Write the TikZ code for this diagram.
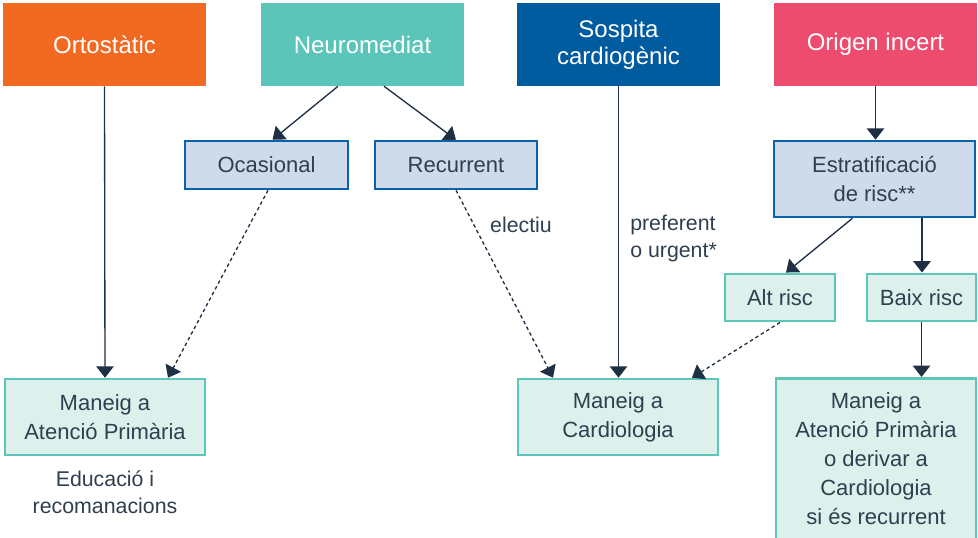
\documentclass[tikz,border=0pt]{standalone}
\usepackage{fontspec}
\setmainfont{Liberation Sans}
\usetikzlibrary{arrows.meta,calc}
\definecolor{corange}{HTML}{F26A21}
\definecolor{cteal}{HTML}{5BC5B9}
\definecolor{cdblue}{HTML}{005B9F}
\definecolor{cpink}{HTML}{EE4C6E}
\definecolor{clbfill}{HTML}{CFDBEA}
\definecolor{clbdraw}{HTML}{0A63A8}
\definecolor{cltfill}{HTML}{DDF0EC}
\definecolor{cltdraw}{HTML}{5CC6B8}
\definecolor{ctext}{HTML}{2F3F4F}
\definecolor{carrow}{HTML}{1F3044}
\tikzset{
  topbox/.style={minimum width=152.25pt, minimum height=62.25pt, inner sep=0pt, text=white, align=center, font=\fontsize{18}{20.5}\selectfont},
  bluebox/.style={fill=clbfill, draw=clbdraw, line width=1.9pt, inner sep=0pt, text=ctext, align=center, font=\fontsize{16.5}{21.75}\selectfont},
  tealbox/.style={fill=cltfill, draw=cltdraw, line width=1.9pt, inner sep=0pt, text=ctext, align=center, font=\fontsize{16.5}{21.75}\selectfont},
  lbl/.style={text=ctext, font=\fontsize{16}{20.5}\selectfont, inner sep=0pt},
  arr/.style={draw=carrow, line width=1pt, -{Triangle[length=8.5pt,width=13pt]}},
  darr/.style={arr, dash pattern=on 2.6pt off 2.2pt}
}
\begin{document}
\begin{tikzpicture}[x=0.75pt,y=-0.75pt]
\useasboundingbox (0,0) rectangle (978,538);
\clip (0,0) rectangle (978,538);
% top row
\node[topbox, fill=corange] (orto) at (104.5,44.5) {Ortostàtic};
\node[topbox, fill=cteal] (neuro) at (362.5,44.5) {Neuromediat};
\node[topbox, fill=cdblue] (sosp) at (618.5,44.5) {Sospita\\cardiogènic};
\node[topbox, fill=cpink] (orig) at (875.5,44.5) {Origen incert};
% second row
\node[bluebox, minimum width=122pt, minimum height=36pt] (ocas) at (266.5,165) {Ocasional};
\node[bluebox, minimum width=121.5pt, minimum height=36pt] (recur) at (456,165) {Recurrent};
\node[bluebox, minimum width=150.5pt, minimum height=57pt] (estrat) at (874.5,179) {Estratificació\\de risc**};
\node[tealbox, minimum width=82.5pt, minimum height=35.5pt] (alt) at (780,297.5) {Alt risc};
\node[tealbox, minimum width=82pt, minimum height=35.5pt] (baix) at (921.5,297.5) {Baix risc};
% bottom row
\node[tealbox, minimum width=150pt, minimum height=57pt] (man1) at (105,417) {Maneig a\\Atenció Primària};
\node[tealbox, minimum width=150pt, minimum height=57pt] (man2) at (618,417) {Maneig a\\Cardiologia};
\node[tealbox, minimum width=150pt, minimum height=121pt, anchor=north] (man3) at (876,377) {Maneig a\\Atenció Primària\\o derivar a\\Cardiologia\\si és recurrent};
% labels
\node[lbl, align=center] (edu) at (105,492) {Educació i\\recomanacions};
\node[lbl] (elec) at (521,225) {electiu};
\node[lbl, align=left, anchor=west] (pref) at (630,238.5) {preferent\\o urgent*};
% arrows
\draw[arr] (orto.south) -- (man1.north);
\draw[arr] ($(neuro.south)+(-24.5,0)$) -- ($(ocas.north)+(6,0)$);
\draw[arr] ($(neuro.south)+(21.5,0)$) -- (recur.north);
\draw[darr] ($(ocas.south)+(1.5,0)$) -- ($(man1.north)+(63,0)$);
\draw[darr] (recur.south) -- ($(man2.north)+(-65,0)$);
\draw[arr] (sosp.south) -- (sosp.south |- man2.north);
\draw[darr] (alt.south) -- ($(man2.north)+(74,0)$);
\draw[arr] (orig.south) -- (orig.south |- estrat.north);
\draw[arr] ($(estrat.south)+(-22,0)$) -- ($(alt.north)+(6,0)$);
\draw[arr] ($(estrat.south)+(47.5,0)$) -- ($(baix.north)+(0.5,0)$);
\draw[arr] (baix.south) -- (baix.south |- man3.north);
\end{tikzpicture}
\end{document}
